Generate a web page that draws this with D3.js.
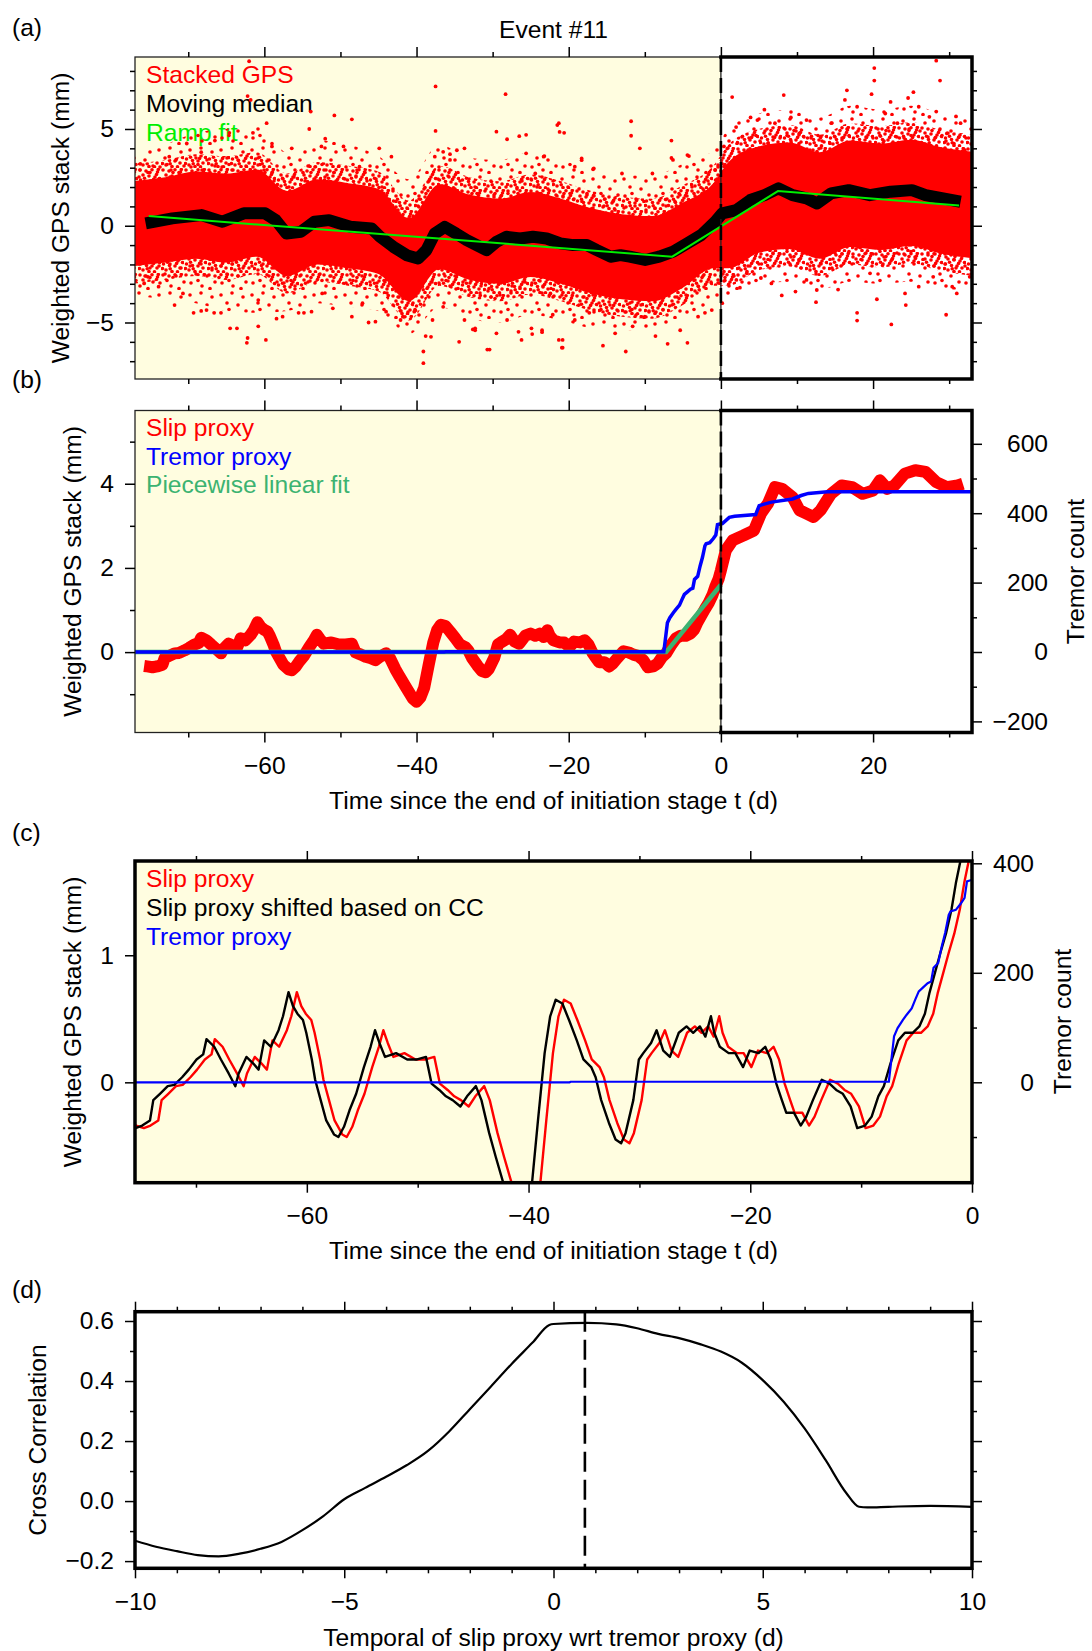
<!DOCTYPE html>
<html><head><meta charset="utf-8">
<script src="https://cdn.jsdelivr.net/npm/d3@7"></script>
<style>body{margin:0;background:#fff}</style>
</head><body>
<svg id="fig" width="1092" height="1651"></svg>
<script>
// ---------------- DATA ----------------
// Panel (a): moving median of stacked GPS
const medianT = [-75.6,-72.1,-68.3,-65.5,-62.7,-59.9,-58.5,-57.1,-55.2,-53.4,-51.5,-48.7,-45.9,-44.8,-43.05,-41.3,-39.8,-38.7,-37.6,-36.3,-34.8,-33.4,-32.1,-30.8,-29.5,-28.2,-26.4,-24.7,-22.9,-21.1,-19.4,-17.6,-16.3,-14.5,-13.2,-12.0,-9.96,-8.1,-6.27,-4.43,-2.58,-0.74,0.18,2.03,3.87,5.72,7.56,9.41,11.25,12.64,14.48,16.79,19.56,22.3,25.1,26.9,29.2,31.5];
const medianV = [0.12,0.38,0.55,0.21,0.64,0.64,0.29,-0.40,-0.31,0.21,0.29,-0.05,-0.14,-0.57,-1.09,-1.52,-1.69,-1.26,-0.40,-0.06,-0.40,-0.74,-1.0,-1.26,-0.83,-0.57,-0.66,-0.57,-0.66,-0.91,-1.0,-1.0,-1.26,-1.6,-1.52,-1.6,-1.77,-1.6,-1.34,-0.91,-0.48,0.21,0.64,0.81,1.33,1.58,1.93,1.58,1.41,1.15,1.67,1.84,1.58,1.76,1.84,1.58,1.41,1.24];
// Panel (a): ramp fit
const rampT = [-75.2,-6.4,7.5,31.3];
const rampV = [0.5,-1.6,1.79,1.05];
// Panel (a): envelope of the stacked GPS point cloud (dense core, medium, sparse outer)
const cloudT       = [-77.5,-73,-69,-65,-61,-57,-53,-49,-45,-41,-37,-33,-29,-25,-21,-17,-13,-9,-5,-1,1,5,9,13,17,21,25,29,33.5];
const cloudCoreLo  = [-2.1,-1.9,-1.7,-1.9,-1.6,-2.6,-2.0,-2.2,-2.5,-3.9,-2.25,-2.8,-3.0,-2.65,-3.0,-3.5,-3.8,-3.9,-3.2,-2.2,-2.2,-1.4,-1.2,-1.7,-1.1,-1.25,-1.05,-1.45,-1.7];
const cloudCoreHi  = [2.3,2.5,2.8,2.7,2.9,1.8,2.4,2.2,1.9,0.4,2.15,1.6,1.4,1.75,1.4,0.9,0.6,0.5,1.2,2.2,3.3,4.1,4.3,3.8,4.4,4.25,4.45,4.05,3.8];
const cloudMidLo   = [-3.0,-2.8,-2.6,-2.8,-2.5,-3.5,-2.9,-3.1,-3.4,-4.9,-3.1,-3.7,-3.9,-3.55,-3.9,-4.4,-4.7,-4.8,-4.1,-3.1,-3.1,-2.3,-2.1,-2.6,-2.0,-2.15,-1.95,-2.35,-2.6];
const cloudMidHi   = [3.2,3.4,3.7,3.6,3.8,2.7,3.3,3.1,2.8,1.3,3.1,2.5,2.3,2.65,2.3,1.8,1.5,1.4,2.1,3.1,4.2,5.0,5.2,4.7,5.3,5.15,5.35,4.95,4.7];
const cloudOuterLo = [-3.6,-3.8,-4.0,-4.4,-4.5,-4.4,-4.0,-4.2,-4.4,-5.6,-4.2,-4.8,-5.0,-4.6,-4.9,-5.3,-5.4,-5.4,-4.9,-3.9,-3.6,-3.0,-2.9,-3.3,-2.9,-3.0,-2.9,-3.3,-3.3];
const cloudOuterHi = [3.8,4.2,4.8,5.0,5.2,3.8,4.4,4.2,3.6,2.4,4.2,3.5,3.4,3.8,3.4,2.9,2.6,2.6,3.2,3.9,5.0,5.8,6.0,5.6,6.2,6.0,6.2,5.8,5.4];
// Panel (a): isolated outlier points of the stacked GPS
const outlierT = [-62.0,-37.5,-37.5,-28.3,-50.8,-48.5,-53.9,-44.9,-76.3,-62.3,-59.8,-39.1,-39.1,-69.3,-71.8,-68.3,-66.6,-64.5,-60.8,-58.4,-54.8,-46.3,-38.8,-34.4,-32.3,-30.4,-26.2,-23.5,-21.3,-56.4,-52.5,-35.6,-34.7,-25.6,-21.3,-23.2,
  -21.5,-20.6,-11.8,-11.8,-10.65,-6.5,-6.5,-4.2,1.48,5.72,8.26,16.56,20.16,20.16,19.8,22.3,25.3,24.6,28.3,28.8,28.3,30.9,-20.8,-20.8,-15.5,-12.5,-7.0,-4.4,-2.1,0.18,2.5,8.0,9.8,12.5,15.4,17.9,17.9,20.5,22.4,24.3,29.6,31.0,
  -21.2,-28.1,-26.5,-38.1,-20.9,-41.8,-32.6,-26.6,-24.8,-18.3,-16.8,
  -72.5,-70.2,-68.3,-66.5,-64.6,-62.2,-61.8,-61.5,-59.7,-59.0,-54.1,-52.0,-49.6,-47.5,-43.3,-37.6,-36.5,-35.6,-33.7,-29.5,-25.6,-24.4,
  -75.8,-75.3,-73.9,-70.7,-67.6,-65.7,-63.6,-62.2,-60.8,-57.6,-55.5,-53.8,-52.4,-51.0,-48.5,-47.1,-45.4,-44.0,-42.1,-40.3,-37.9,-36.5,-33.7,-32.3,-30.7,-29.5,-28.1,-24.9,-23.5,-22.1,
  -23.3,-19.2,-18.3,-16.7,-13.0,-9.0,-6.3,-4.4,-0.74,-22.4,-19.2,-17.3,-13.9,-11.6,-10.0,-8.6,-5.35,-3.0,-1.2,
  0.4,2.0,3.9,4.8,7.1,9.2,10.3,11.25,13.1,14.5,16.3,17.9,21.6,23.2,26.0,27.4,29.7,31.5,
  0.18,2.03,3.4,5.26,6.64,11.25,12.6,19.6,24.2,26.0,27.9,30.4,32.7];
const outlierV = [8.5,7.2,4.9,6.8,5.7,5.5,5.9,4.0,3.2,-6.05,-5.9,-6.5,-7.1,-4.5,-4.1,-4.4,-4.5,-5.3,-5.2,-4.8,-4.5,-5.0,-5.7,-6.0,-5.4,-6.4,-5.9,-5.5,-5.9,4.0,4.1,3.7,3.9,4.7,5.3,3.6,
  5.2,4.8,5.4,4.65,4.0,4.4,3.5,3.6,6.65,6.0,6.75,7.0,8.15,7.5,6.8,6.4,6.9,6.6,8.53,7.5,5.9,5.65,-5.9,-6.3,-6.2,-6.5,-6.1,-6.05,-4.5,-4.0,-3.2,-3.6,-3.4,-3.95,-3.3,-4.5,-4.9,-3.8,-5.1,-4.1,-4.6,-3.5,
  4.85,4.47,4.63,-5.74,-6.3,-4.7,-5.36,-5.48,-5.6,3.39,2.92,
  3.57,4.25,3.8,4.4,4.8,6.7,6.5,4.8,5.3,4.1,5.0,4.5,4.1,3.05,3.57,3.57,3.82,3.4,4.0,4.86,3.74,2.7,
  -2.98,-2.64,-3.15,-3.5,-4.36,-4.5,-5.3,-5.8,-3.84,-4.7,-4.5,-4.44,-3.5,-4.27,-4.7,-4.0,-4.96,-4.44,-4.87,-4.44,-4.87,-4.19,-4.87,-5.3,-6.4,-5.56,-4.87,-5.3,-5.4,-4.6,
  3.57,3.05,3.48,2.96,2.7,2.7,3.4,3.65,2.88,-3.5,-4.87,-4.5,-5.56,-5.2,-4.7,-5.7,-5.4,-4.7,-4.36,
  4.1,5.1,5.6,5.46,5.3,5.6,4.77,5.46,4.6,5.3,6.5,6.15,5.8,5.3,6.15,5.63,4.77,5.3,
  -1.95,-2.8,-2.46,-2.7,-2.98,-2.8,-3.32,-2.46,-3.5,-3.15,-2.64,-3.15,-2.64];
// Panels (b),(c): slip proxy
const slipT = [-75.8,-75.4,-74.7,-74.1,-73.4,-73.1,-72.5,-71.8,-71.2,-70.5,-69.9,-69.2,-68.6,-68.3,-67.6,-67.0,-66.3,-65.7,-65.4,-64.7,-64.1,-63.6,-63.1,-62.5,-61.8,-61.4,-60.9,-60.5,-60.1,-59.6,-59.3,-58.8,-58.5,-58.0,-57.5,-56.8,-56.4,-55.9,-55.4,-54.8,-54.1,-53.5,-53.1,-52.7,-52.2,-51.2,-50.2,-49.3,-48.5,-48.0,-47.3,-46.7,-46.1,-45.4,-44.8,-44.0,-43.5,-42.8,-42.2,-41.5,-41.0,-40.5,-40.0,-39.5,-39.0,-38.4,-37.8,-37.3,-36.8,-36.2,-35.6,-34.9,-34.3,-33.6,-33.2,-32.7,-32.0,-31.4,-30.9,-30.5,-29.8,-29.3,-28.9,-28.2,-27.7,-27.1,-26.5,-25.7,-25.0,-24.4,-23.8,-23.3,-22.8,-22.5,-22.0,-21.2,-20.6,-19.9,-19.3,-18.5,-17.9,-17.4,-16.9,-16.4,-16.0,-15.3,-14.7,-14.2,-13.6,-12.8,-12.1,-11.5,-10.9,-10.2,-9.6,-8.9,-8.3,-7.7,-7.2,-6.6,-5.9,-5.3,-4.6,-4.0,-3.5,-3.1,-2.6,-2.1,-1.6,-1.1,-0.7,-0.3,0.0,0.65,1.57,2.95,4.34,5.26,6.18,7.1,8.03,9.41,10.33,11.25,12.18,13.1,14.48,15.87,17.25,18.63,20.0,20.9,21.86,22.8,24.17,25.55,26.9,28.3,29.7,31.1,31.8];
const slipV = [-0.33,-0.34,-0.36,-0.34,-0.30,-0.14,-0.09,-0.03,-0.02,0.04,0.10,0.18,0.22,0.34,0.28,0.18,0.07,-0.03,0.07,0.20,0.15,0.10,0.33,0.28,0.41,0.52,0.71,0.60,0.54,0.49,0.39,0.18,0.02,-0.14,-0.30,-0.41,-0.43,-0.35,-0.22,-0.09,0.12,0.28,0.41,0.31,0.20,0.23,0.18,0.18,0.20,-0.01,-0.06,-0.11,-0.14,-0.19,-0.11,-0.03,-0.14,-0.40,-0.59,-0.80,-0.95,-1.10,-1.18,-1.08,-0.85,-0.30,0.23,0.52,0.65,0.62,0.49,0.33,0.18,0.12,0.04,-0.14,-0.32,-0.45,-0.48,-0.40,-0.14,0.18,0.23,0.31,0.41,0.25,0.20,0.39,0.44,0.39,0.44,0.36,0.52,0.39,0.28,0.23,0.23,0.12,0.25,0.23,0.28,0.18,-0.01,-0.14,-0.24,-0.24,-0.34,-0.27,-0.14,0.02,-0.01,-0.06,-0.09,-0.19,-0.36,-0.34,-0.27,-0.11,-0.03,0.15,0.33,0.39,0.39,0.44,0.54,0.70,0.86,1.02,1.17,1.36,1.57,1.74,1.94,2.42,2.66,2.77,2.89,3.29,3.53,3.92,3.88,3.68,3.37,3.29,3.21,3.37,3.76,3.96,3.92,3.76,3.84,4.08,3.88,3.96,4.24,4.32,4.28,4.04,3.92,3.96,4.0];
// Lag of maximum cross correlation (d), used to shift the slip proxy in (c)
const ccShift = 0.75;
// Panels (b),(c): tremor proxy (cumulative count)
const tremorT = [-77,-36.3,-36.2,-7.5,-7.03,-6.71,-6.23,-5.91,-5.44,-5.12,-4.8,-4.48,-4.0,-3.69,-3.47,-3.05,-2.73,-2.42,-2.1,-1.94,-1.46,-0.99,-0.67,-0.45,-0.13,0.2,1.1,1.8,4.57,5.03,6.64,9.41,10.56,11.49,14.0,33];
const tremorN = [0,0,1,1,84,99,114,123,135,151,166,172,181,184,209,218,248,273,306,312,315,327,337,367,369,370,388,391,396,422,432,441,451,457,462,462];
// Panel (b): piecewise linear fit
const fitT = [-77,-7.2,0];
const fitV = [0,0,1.6];
// Panel (d): cross correlation vs lag
const ccLag = [-10,-9.5,-9,-8.5,-8,-7.5,-7,-6.5,-6,-5.5,-5,-4.5,-4,-3.5,-3,-2.5,-2,-1.5,-1,-0.5,-0.1,0,0.8,1.5,2,2.5,3,3.5,4,4.5,5,5.5,6,6.5,7,7.3,7.5,8,9,10];
const ccVal = [-0.132,-0.152,-0.167,-0.18,-0.184,-0.175,-0.159,-0.136,-0.097,-0.05,0.006,0.044,0.081,0.12,0.167,0.231,0.306,0.381,0.457,0.528,0.587,0.59,0.594,0.589,0.576,0.557,0.543,0.523,0.498,0.461,0.403,0.331,0.242,0.137,0.026,-0.019,-0.021,-0.019,-0.016,-0.019];
// Tick values
const tickXabMaj = [-60,-40,-20,0,20], tickXabMin = [-70,-50,-30,-10,10,30];
const tickYaMaj = [-5,0,5], tickYaMin = [-7,-6,-4,-3,-2,-1,1,2,3,4,6,7,8];
const tickYbMaj = [0,2,4], tickYbMin = [-1,1,3,5];
const tickYbTMaj = [-200,0,200,400,600], tickYbTMin = [-100,100,300,500];
const tickXcMaj = [-60,-40,-20,0], tickXcMin = [-70,-50,-30,-10];
const tickYcMaj = [0,1];
const tickYcTMaj = [0,200,400], tickYcTMin = [-100,100,300];
const tickXdMaj = [-10,-5,0,5,10], tickXdMin = [-9,-8,-7,-6,-4,-3,-2,-1,1,2,3,4,6,7,8,9];
const tickYdMaj = [-0.2,0,0.2,0.4,0.6], tickYdMin = [-0.1,0.1,0.3,0.5];

// ---------------- LAYOUT ----------------
const FONT = '"Liberation Sans", Arial, Helvetica, sans-serif';
const FS = 24.6;
const X0 = 135, X1 = 972;
const PA = {top:57, bottom:379}, PB = {top:410.5, bottom:732.5}, PC = {top:861, bottom:1182.7}, PD = {top:1311.7, bottom:1568.3};
const YEL = "#fffde0";

const xAB = d3.scaleLinear([-77,33],[X0,X1]);
const xC = d3.scaleLinear([-75.5,0],[X0,X1]);
const xD = d3.scaleLinear([-10,10],[X0,X1]);
const yA = d3.scaleLinear([-7.92,8.72],[PA.bottom,PA.top]);
const yB = d3.scaleLinear([-1.91,5.74],[PB.bottom,PB.top]);
const yBT = d3.scaleLinear([-232,696],[PB.bottom,PB.top]);
const yC = d3.scaleLinear([-0.79,1.742],[PC.bottom,PC.top]);
const yCT = d3.scaleLinear([-183.4,404.2],[PC.bottom,PC.top]);
const yD = d3.scaleLinear([-0.224,0.631],[PD.bottom,PD.top]);

const svg = d3.select("#fig");
const defs = svg.append("defs");
function clip(id, p){ defs.append("clipPath").attr("id",id).append("rect").attr("x",X0).attr("y",p.top).attr("width",X1-X0).attr("height",p.bottom-p.top); }
clip("clipA",PA); clip("clipB",PB); clip("clipC",PC); clip("clipD",PD);

// dot textures for the point cloud (style only)
function dotPattern(id, w, h, pts){
  const p = defs.append("pattern").attr("id",id).attr("patternUnits","userSpaceOnUse").attr("width",w).attr("height",h);
  pts.forEach(([cx,cy])=>p.append("circle").attr("cx",cx).attr("cy",cy).attr("r",1.8).attr("fill","#ff0000"));
}
dotPattern("dotsMid", 23, 21, [[2,2],[8,3],[14,1.8],[19.5,4],[5,7],[11,8],[17,9],[21.5,10.5],[2.5,12],[8.5,13.5],[14,14],[19,16],[5,18],[11,19.5],[16.5,19.8],[1.5,16.5],[12,4.6],[6.5,10.2],[20.3,1.6],[15.6,11.4],[9.2,16.8],[18.5,6.5]]);
dotPattern("dotsOuter", 31, 29, [[4,5],[15,3],[26,7],[10,13],[21,15],[29,21],[5,22],[16,25],[24,27.5],[12,19.5]]);

function zip(ts, vs){ return ts.map((t,i)=>({t, v:vs[i]})); }

function tickSet(axisGen, transform, scale, majors, minors, fmt, pad){
  const groups = [];
  if (minors && minors.length){
    const a = svg.append("g").attr("transform", transform)
      .call(axisGen(scale).tickValues(minors).tickSize(5).tickFormat(""));
    groups.push(a);
  }
  const b = svg.append("g").attr("transform", transform)
    .call(axisGen(scale).tickValues(majors).tickSize(10).tickPadding(pad||11).tickFormat(fmt || (()=>"")));
  groups.push(b);
  groups.forEach(s=>{
    s.select(".domain").remove();
    s.selectAll("line").attr("stroke","#000").attr("stroke-width",1.5);
    s.selectAll("text").attr("font-size",FS).attr("font-family",FONT).attr("fill","#000");
  });
  return b;
}
function text(x,y,str,opt={}){
  const t = svg.append("text").attr("x",x).attr("y",y).text(str)
    .attr("font-family",FONT).attr("font-size",FS).attr("fill",opt.fill||"#000")
    .attr("text-anchor",opt.anchor||"start");
  if (opt.rotate) t.attr("transform",`rotate(${opt.rotate},${x},${y})`);
  return t;
}
const fmtInt = d3.format("d");
const fmt1 = d3.format(".1f");

// ---------------- PANEL (a) ----------------
svg.append("rect").attr("x",X0).attr("y",PA.top).attr("width",xAB(0)-X0).attr("height",PA.bottom-PA.top).attr("fill",YEL);
// legend (a) lies under the data in the original
text(146,82.5,"Stacked GPS",{fill:"#ff0000"});
text(146,111.5,"Moving median",{fill:"#000"});
text(146,140.5,"Ramp fit",{fill:"#00ee00"});
const gA = svg.append("g").attr("clip-path","url(#clipA)");
const cloud = cloudT.map((t,i)=>({t, ol:cloudOuterLo[i], oh:cloudOuterHi[i], ml:cloudMidLo[i], mh:cloudMidHi[i], cl:cloudCoreLo[i], ch:cloudCoreHi[i]}));
const areaA = (lo,hi)=>d3.area().x(d=>xAB(d.t)).y0(d=>yA(d[lo])).y1(d=>yA(d[hi])).curve(d3.curveMonotoneX);
gA.append("path").datum(cloud).attr("d",areaA("ol","oh")).attr("fill","url(#dotsOuter)");
gA.append("path").datum(cloud).attr("d",areaA("ml","mh")).attr("fill","url(#dotsMid)");
gA.append("path").datum(cloud).attr("d",areaA("cl","ch")).attr("fill","#ff0000");
gA.selectAll("circle.out").data(zip(outlierT,outlierV)).join("circle").attr("class","out")
  .attr("cx",d=>xAB(d.t)).attr("cy",d=>yA(d.v)).attr("r",1.9).attr("fill","#ff0000");
gA.append("path").datum(zip(medianT,medianV))
  .attr("d",d3.line().x(d=>xAB(d.t)).y(d=>yA(d.v)))
  .attr("fill","none").attr("stroke","#000").attr("stroke-width",12).attr("stroke-linejoin","round");
gA.append("path").datum(zip(rampT,rampV))
  .attr("d",d3.line().x(d=>xAB(d.t)).y(d=>yA(d.v)))
  .attr("fill","none").attr("stroke","#00ee00").attr("stroke-width",2);

// ---------------- PANEL (b) ----------------
svg.append("rect").attr("x",X0).attr("y",PB.top).attr("width",xAB(0)-X0).attr("height",PB.bottom-PB.top).attr("fill",YEL);
const gB = svg.append("g").attr("clip-path","url(#clipB)");
gB.append("path").datum(zip(slipT,slipV))
  .attr("d",d3.line().x(d=>xAB(d.t)).y(d=>yB(d.v)))
  .attr("fill","none").attr("stroke","#ff0000").attr("stroke-width",12).attr("stroke-linejoin","round");
gB.append("path").datum(zip(fitT,fitV))
  .attr("d",d3.line().x(d=>xAB(d.t)).y(d=>yB(d.v)))
  .attr("fill","none").attr("stroke","#3cb371").attr("stroke-width",4.5);
gB.append("path").datum(zip(tremorT,tremorN))
  .attr("d",d3.line().x(d=>xAB(d.t)).y(d=>yBT(d.v)))
  .attr("fill","none").attr("stroke","#0000ff").attr("stroke-width",3.5);

// frames (a),(b): thin around yellow part, thick around white part
[PA, PB].forEach(p=>{
  svg.append("rect").attr("x",X0).attr("y",p.top).attr("width",xAB(0)-X0).attr("height",p.bottom-p.top)
    .attr("fill","none").attr("stroke","#222").attr("stroke-width",1.3);
  svg.append("path").attr("d",`M${xAB(0)},${p.top}H${X1}V${p.bottom}H${xAB(0)}`)
    .attr("fill","none").attr("stroke","#000").attr("stroke-width",3.5).attr("stroke-linejoin","miter").attr("stroke-linecap","square");
  svg.append("line").attr("x1",xAB(0)).attr("x2",xAB(0)).attr("y1",p.top).attr("y2",p.bottom)
    .attr("stroke","#000").attr("stroke-width",2.6).attr("stroke-dasharray","15,6");
});

// ticks (a)
tickSet(d3.axisLeft, `translate(${X0},0)`, yA, tickYaMaj, tickYaMin, fmtInt, 11);
tickSet(d3.axisRight, `translate(${X1},0)`, yA, tickYaMaj, tickYaMin, null);
tickSet(d3.axisTop, `translate(0,${PA.top})`, xAB, tickXabMaj, tickXabMin, null);
tickSet(d3.axisBottom, `translate(0,${PA.bottom})`, xAB, tickXabMaj, tickXabMin, null);
// ticks (b)
tickSet(d3.axisLeft, `translate(${X0},0)`, yB, tickYbMaj, tickYbMin, fmtInt, 11);
const rb = tickSet(d3.axisRight, `translate(${X1},0)`, yBT, tickYbTMaj, tickYbTMin, fmtInt, 11);
rb.selectAll("text").attr("text-anchor","end").attr("x",76);
tickSet(d3.axisTop, `translate(0,${PB.top})`, xAB, tickXabMaj, tickXabMin, null);
tickSet(d3.axisBottom, `translate(0,${PB.bottom})`, xAB, tickXabMaj, tickXabMin, fmtInt, 14);

// ---------------- PANEL (c) ----------------
svg.append("rect").attr("x",X0).attr("y",PC.top).attr("width",X1-X0).attr("height",PC.bottom-PC.top).attr("fill",YEL);
const gC = svg.append("g").attr("clip-path","url(#clipC)");
gC.append("path").datum(zip(slipT,slipV))
  .attr("d",d3.line().x(d=>xC(d.t)).y(d=>yC(d.v)))
  .attr("fill","none").attr("stroke","#ff0000").attr("stroke-width",2.4).attr("stroke-linejoin","round");
gC.append("path").datum(zip(slipT,slipV))
  .attr("d",d3.line().x(d=>xC(d.t-ccShift)).y(d=>yC(d.v)))
  .attr("fill","none").attr("stroke","#000").attr("stroke-width",2.4).attr("stroke-linejoin","round");
gC.append("path").datum(zip(tremorT,tremorN))
  .attr("d",d3.line().x(d=>xC(d.t)).y(d=>yCT(d.v)))
  .attr("fill","none").attr("stroke","#0000ff").attr("stroke-width",2.2);
svg.append("rect").attr("x",X0).attr("y",PC.top).attr("width",X1-X0).attr("height",PC.bottom-PC.top)
  .attr("fill","none").attr("stroke","#000").attr("stroke-width",3.5);
tickSet(d3.axisLeft, `translate(${X0},0)`, yC, tickYcMaj, [], fmtInt, 11);
const rc = tickSet(d3.axisRight, `translate(${X1},0)`, yCT, tickYcTMaj, tickYcTMin, fmtInt, 11);
rc.selectAll("text").attr("text-anchor","end").attr("x",62);
tickSet(d3.axisTop, `translate(0,${PC.top})`, xC, tickXcMaj, tickXcMin, null);
tickSet(d3.axisBottom, `translate(0,${PC.bottom})`, xC, tickXcMaj, tickXcMin, fmtInt, 14);

// ---------------- PANEL (d) ----------------
const gD = svg.append("g").attr("clip-path","url(#clipD)");
gD.append("path").datum(zip(ccLag,ccVal))
  .attr("d",d3.line().x(d=>xD(d.t)).y(d=>yD(d.v)).curve(d3.curveMonotoneX))
  .attr("fill","none").attr("stroke","#000").attr("stroke-width",2.2);
svg.append("line").attr("x1",xD(ccShift)).attr("x2",xD(ccShift)).attr("y1",PD.top).attr("y2",PD.bottom)
  .attr("stroke","#000").attr("stroke-width",2.6).attr("stroke-dasharray","20,8");
svg.append("rect").attr("x",X0).attr("y",PD.top).attr("width",X1-X0).attr("height",PD.bottom-PD.top)
  .attr("fill","none").attr("stroke","#000").attr("stroke-width",3.5);
tickSet(d3.axisLeft, `translate(${X0},0)`, yD, tickYdMaj, tickYdMin, fmt1, 11);
tickSet(d3.axisRight, `translate(${X1},0)`, yD, tickYdMaj, tickYdMin, null);
tickSet(d3.axisTop, `translate(0,${PD.top})`, xD, tickXdMaj, tickXdMin, null);
tickSet(d3.axisBottom, `translate(0,${PD.bottom})`, xD, tickXdMaj, tickXdMin, fmtInt, 14);

// ---------------- TEXT ----------------
text(12,36,"(a)");
text(553.5,38,"Event #11",{anchor:"middle"});
text(12,387.5,"(b)");
text(12,841,"(c)");
text(12,1297.5,"(d)");

text(68.5,218,"Weighted GPS stack (mm)",{anchor:"middle",rotate:-90});
text(81.4,571.5,"Weighted GPS stack (mm)",{anchor:"middle",rotate:-90});
text(81.4,1022,"Weighted GPS stack (mm)",{anchor:"middle",rotate:-90});
text(45.8,1440,"Cross Correlation",{anchor:"middle",rotate:-90});
text(1084,571.5,"Tremor count",{anchor:"middle",rotate:-90});
text(1071,1021.5,"Tremor count",{anchor:"middle",rotate:-90});

text(553.5,809,"Time since the end of initiation stage t (d)",{anchor:"middle"});
text(553.5,1259,"Time since the end of initiation stage t (d)",{anchor:"middle"});
text(553.5,1645.5,"Temporal of slip proxy wrt tremor proxy (d)",{anchor:"middle"});

// legends (b), (c)
text(146,435.5,"Slip proxy",{fill:"#ff0000"});
text(146,464.5,"Tremor proxy",{fill:"#0000ff"});
text(146,493.2,"Piecewise linear fit",{fill:"#3cb371"});
text(146,887.2,"Slip proxy",{fill:"#ff0000"});
text(146,915.5,"Slip proxy shifted based on CC",{fill:"#000"});
text(146,944.5,"Tremor proxy",{fill:"#0000ff"});
</script>
</body></html>
